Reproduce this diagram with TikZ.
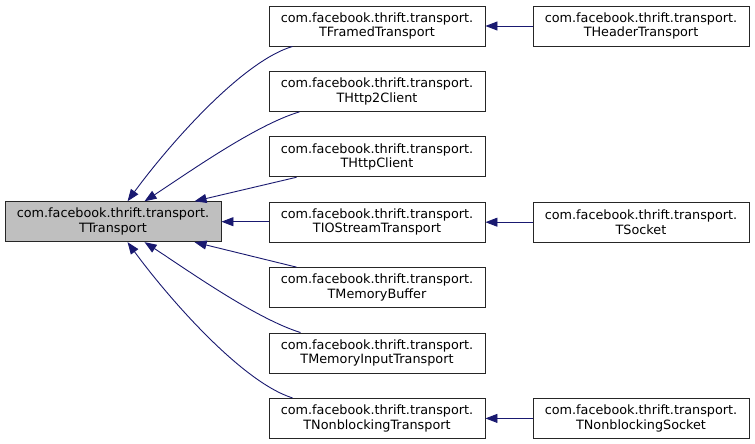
\documentclass[tikz,border=0pt]{standalone}
\usepackage{fontspec}
\setmainfont{DejaVu Sans}
\usetikzlibrary{arrows.meta}
\definecolor{edgeblue}{HTML}{191970}
\begin{document}
\begin{tikzpicture}[x=1pt,y=-1pt,
    cls/.style={draw=black!85,fill=white,line width=0.9pt,minimum width=216pt,minimum height=40pt,
      inner sep=0pt,align=center,font=\fontsize{12.8}{14.5}\selectfont},
    basecls/.style={cls,fill=black!25},
    inh/.style={draw=edgeblue,line width=0.9pt,{Triangle[length=12pt,width=9pt]}-}]
  \useasboundingbox[fill=white] (0,0) rectangle (755,444);
  % base class
  \node[basecls] (ttransport) at (113,221.7) {com.facebook.thrift.transport.\\TTransport};
  % direct subclasses
  \node[cls] (tframed)   at (377,26)    {com.facebook.thrift.transport.\\TFramedTransport};
  \node[cls] (thttptwo)  at (377,91.4)  {com.facebook.thrift.transport.\\THttp2Client};
  \node[cls] (thttp)     at (377,156.8) {com.facebook.thrift.transport.\\THttpClient};
  \node[cls] (tiostream) at (377,222.2) {com.facebook.thrift.transport.\\TIOStreamTransport};
  \node[cls] (tmembuf)   at (377,287.6) {com.facebook.thrift.transport.\\TMemoryBuffer};
  \node[cls] (tmeminput) at (377,353)   {com.facebook.thrift.transport.\\TMemoryInputTransport};
  \node[cls] (tnonblock) at (377,418.4) {com.facebook.thrift.transport.\\TNonblockingTransport};
  % second level
  \node[cls] (theader)   at (641,26)    {com.facebook.thrift.transport.\\THeaderTransport};
  \node[cls] (tsocket)   at (641,222.2) {com.facebook.thrift.transport.\\TSocket};
  \node[cls] (tnbsocket) at (641,418.4) {com.facebook.thrift.transport.\\TNonblockingSocket};
  % edges
  \draw[inh] ([xshift=123pt]ttransport.north west) .. controls (165,150) and (240,62) .. ([xshift=24pt]tframed.south west);
  \draw[inh] ([xshift=140pt]ttransport.north west) .. controls (185,175) and (255,125) .. ([xshift=31pt]thttptwo.south west);
  \draw[inh] ([xshift=190pt]ttransport.north west) -- ([xshift=28pt]thttp.south west);
  \draw[inh] (ttransport.east) -- (tiostream.west |- ttransport.east);
  \draw[inh] ([xshift=190pt]ttransport.south west) -- ([xshift=28pt]tmembuf.north west);
  \draw[inh] ([xshift=140pt]ttransport.south west) .. controls (185,268.4) and (255,318.4) .. ([xshift=32pt]tmeminput.north west);
  \draw[inh] ([xshift=123pt]ttransport.south west) .. controls (165,293.4) and (240,381.4) .. ([xshift=24pt]tnonblock.north west);
  \draw[inh] (tframed.east) -- (theader.west);
  \draw[inh] (tiostream.east) -- (tsocket.west);
  \draw[inh] (tnonblock.east) -- (tnbsocket.west);
\end{tikzpicture}
\end{document}
